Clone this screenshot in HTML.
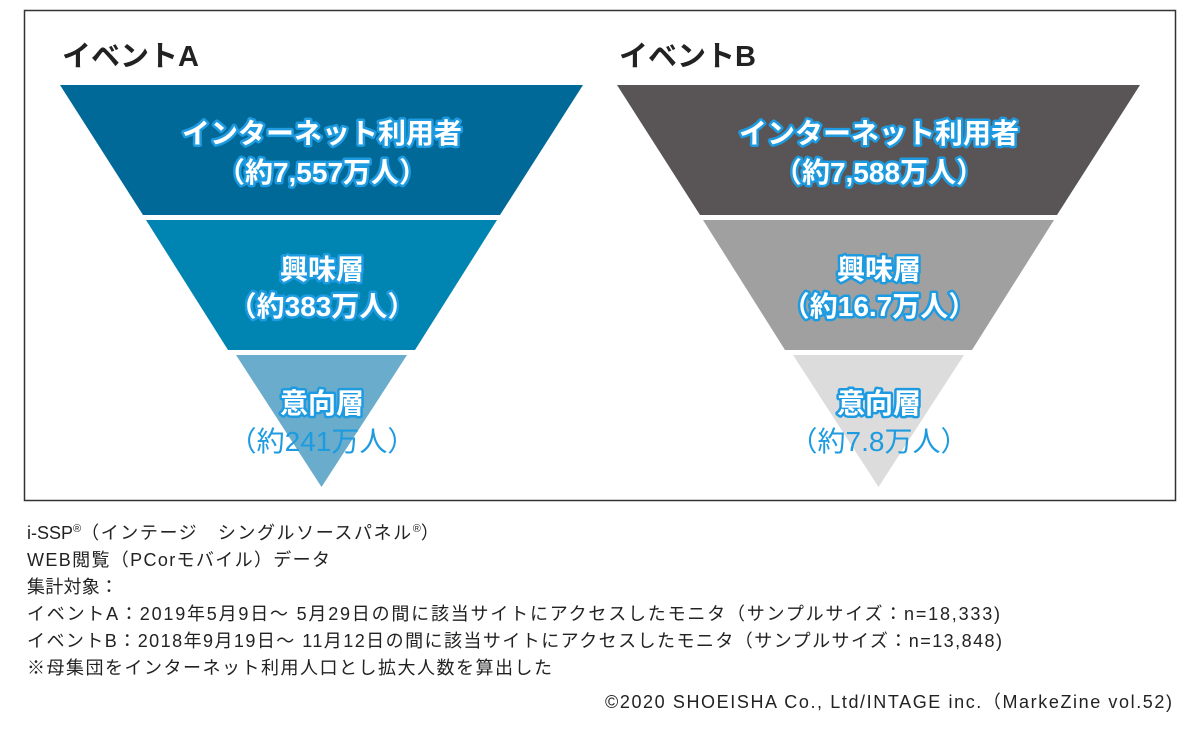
<!DOCTYPE html>
<html><head><meta charset="utf-8"><style>
body{margin:0;background:#fff;}
svg{display:block}
</style></head><body>
<svg width="1200" height="739" xmlns="http://www.w3.org/2000/svg" font-family="'Liberation Sans','Noto Sans CJK JP',sans-serif">
<rect x="24.5" y="10.5" width="1151" height="490" fill="none" stroke="#333" stroke-width="1.5"/>
<text x="62" y="66" font-size="29" font-weight="bold" fill="#222">イベントA</text>
<text x="619" y="66" font-size="29" font-weight="bold" fill="#222">イベントB</text>
<polygon points="60,85 583,85 500,215 143,215" fill="#006998"/>
<polygon points="146,220 497,220 415,350 228,350" fill="#0084b2"/>
<polygon points="236,355 407,355 321.5,487" fill="#6aaccc"/>
<polygon points="617,85 1140,85 1057,215 700,215" fill="#595556"/>
<polygon points="703,220 1054,220 972,350 785,350" fill="#a0a0a0"/>
<polygon points="793,355 964,355 878.5,487" fill="#dcdcdc"/>
<g font-size="28" font-weight="bold" text-anchor="middle" fill="#fff" stroke="#1e9be0" stroke-width="5" stroke-linejoin="round" paint-order="stroke">
<text x="322" y="143">インターネット利用者</text>
<text x="322" y="182">（約7,557万人）</text>
<text x="322" y="279">興味層</text>
<text x="322" y="316">（約383万人）</text>
<text x="322" y="413">意向層</text>
<text x="879" y="143">インターネット利用者</text>
<text x="879" y="182">（約7,588万人）</text>
<text x="879" y="279">興味層</text>
<text x="879" y="316">（約16.7万人）</text>
<text x="879" y="413">意向層</text>
</g>
<g font-size="28" text-anchor="middle" fill="#1e9be0">
<text x="322" y="451">（約241万人）</text>
<text x="879" y="451">（約7.8万人）</text>
</g>
<g font-size="18" fill="#222">
<text x="27" y="539">i-SSP<tspan font-size="11" dy="-7">®</tspan><tspan dy="7" textLength="330" lengthAdjust="spacing">（インテージ　シングルソースパネル</tspan><tspan font-size="11" dy="-7">®</tspan><tspan dy="7">）</tspan></text>
<text x="27" y="566" textLength="303" lengthAdjust="spacing">WEB閲覧（PCorモバイル）データ</text>
<text x="27" y="593" textLength="91" lengthAdjust="spacing">集計対象：</text>
<text x="27" y="620" textLength="973" lengthAdjust="spacing">イベントA：2019年5月9日～ 5月29日の間に該当サイトにアクセスしたモニタ（サンプルサイズ：n=18,333)</text>
<text x="27" y="647" textLength="975" lengthAdjust="spacing">イベントB：2018年9月19日～ 11月12日の間に該当サイトにアクセスしたモニタ（サンプルサイズ：n=13,848)</text>
<text x="27" y="674" textLength="525" lengthAdjust="spacing">※母集団をインターネット利用人口とし拡大人数を算出した</text>
<text x="605" y="708" textLength="567" lengthAdjust="spacing">©2020 SHOEISHA Co., Ltd/INTAGE inc.（MarkeZine vol.52)</text>
</g>
</svg>
</body></html>
